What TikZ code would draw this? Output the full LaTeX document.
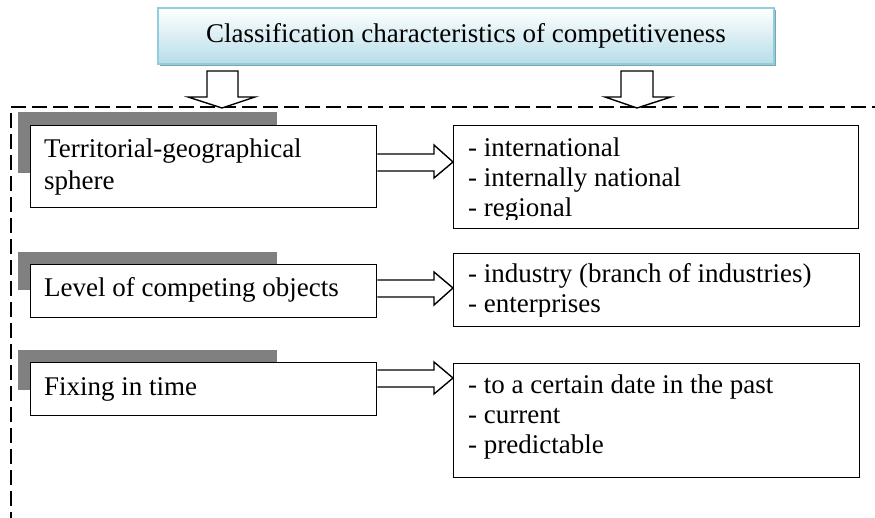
\documentclass[tikz,border=0pt]{standalone}
\usepackage{fontspec}
\setmainfont{Liberation Serif}
\newfontfamily\diagfont{Liberation Serif}
\usetikzlibrary{shadows}
\definecolor{ttlborder}{RGB}{146,205,220}
\definecolor{ttlfill}{RGB}{182,221,232}
\definecolor{ttlshadow}{RGB}{125,165,175}
\definecolor{tabgray}{RGB}{128,128,128}
\begin{document}
\begin{tikzpicture}[x=1pt,y=-1pt,
  txt/.style={font=\diagfont\fontsize{27}{30}\selectfont, inner sep=0pt, anchor=base west},
  titlebox/.style={draw=ttlborder, line width=1.5pt, top color=white, bottom color=ttlfill,
     minimum width=616pt, minimum height=56pt, inner sep=0pt,
     font=\diagfont\fontsize{27}{30}\selectfont,
     drop shadow={shadow xshift=2pt, shadow yshift=-2.5pt, fill=ttlshadow, opacity=1}},
  graytab/.style={fill=tabgray, draw=none, inner sep=0pt, anchor=north west},
  whitebox/.style={draw=black, line width=1.4pt, fill=white, inner sep=0pt, anchor=north west},
  blockarr/.style={draw=black, line width=1.4pt, fill=white, line join=miter},
  frame/.style={line width=1.6pt, dash pattern=on 15pt off 6pt}
]
\useasboundingbox (0,0) rectangle (875,518);

% title
\node[titlebox] (title) at (466,36) {Classification characteristics of competitiveness};

% dashed frame
\coordinate (fa) at (875,107);
\coordinate (fb) at (11,107);
\coordinate (fc) at (11,113);
\coordinate (fd) at (11,518);
\draw[frame] (fb) -- (fa);
\draw[frame] (fc) -- (fd);

% down arrows
\coordinate (d1) at (222,108);
\coordinate (d2) at (637,108);
\draw[blockarr] (d1) -- ++(33,-11) -- ++(-17,0) -- ++(0,-26) -- ++(-31,0) -- ++(0,26) -- ++(-19,0) -- cycle;
\draw[blockarr] (d2) -- ++(34,-11) -- ++(-18,0) -- ++(0,-26) -- ++(-32,0) -- ++(0,26) -- ++(-16,0) -- cycle;

% gray tabs
\node[graytab, minimum width=259pt, minimum height=61pt] (t1) at (18,112) {};
\node[graytab, minimum width=259pt, minimum height=38pt] (t2) at (18,252) {};
\node[graytab, minimum width=259pt, minimum height=40pt] (t3) at (18,350) {};

% left boxes
\node[whitebox, minimum width=346pt, minimum height=82pt] (L1) at (30,125) {};
\node[whitebox, minimum width=346pt, minimum height=53pt] (L2) at (30,264) {};
\node[whitebox, minimum width=346pt, minimum height=53pt] (L3) at (30,362) {};

% right boxes
\node[whitebox, minimum width=405pt, minimum height=103pt] (R1) at (453,125) {};
\node[whitebox, minimum width=406pt, minimum height=73pt] (R2) at (453,253) {};
\node[whitebox, minimum width=406pt, minimum height=114pt] (R3) at (453,363) {};

% left texts
\node[txt] (l1a) at (44,158) {Territorial-geographical};
\node[txt] (l1b) at (44,190) {sphere};
\node[txt] (l2a) at (44,297) {Level of competing objects};
\node[txt] (l3a) at (44,395) {Fixing in time};

% right texts (clipped like the original text boxes)
\begin{scope}
\clip (455,127) rectangle (857,220);
\node[txt] (r1a) at (468,157) {- international};
\node[txt] (r1b) at (468,187) {- internally national};
\node[txt] (r1c) at (468,217) {- regional};
\end{scope}
\begin{scope}
\clip (455,255) rectangle (857,317);
\node[txt] (r2a) at (468,283) {- industry (branch of industries)};
\node[txt] (r2b) at (468,313) {- enterprises};
\end{scope}
\node[txt] (r3a) at (468,393) {- to a certain date in the past};
\node[txt] (r3b) at (468,423) {- current};
\node[txt] (r3c) at (468,453) {- predictable};

% horizontal block arrows
\draw[blockarr] (L1.east |- 0,154) -- (434,154) -- (434,145) -- (R1.west |- 0,162) -- (434,178) -- (434,171) -- (L1.east |- 0,171);
\draw[blockarr] (L2.east |- 0,280) -- (434,280) -- (434,272) -- (R2.west |- 0,288) -- (434,305) -- (434,297) -- (L2.east |- 0,297);
\draw[blockarr] (L3.east |- 0,370) -- (434,370) -- (434,362) -- (R3.west |- 0,378) -- (434,394) -- (434,387) -- (L3.east |- 0,387);
\end{tikzpicture}
\end{document}
